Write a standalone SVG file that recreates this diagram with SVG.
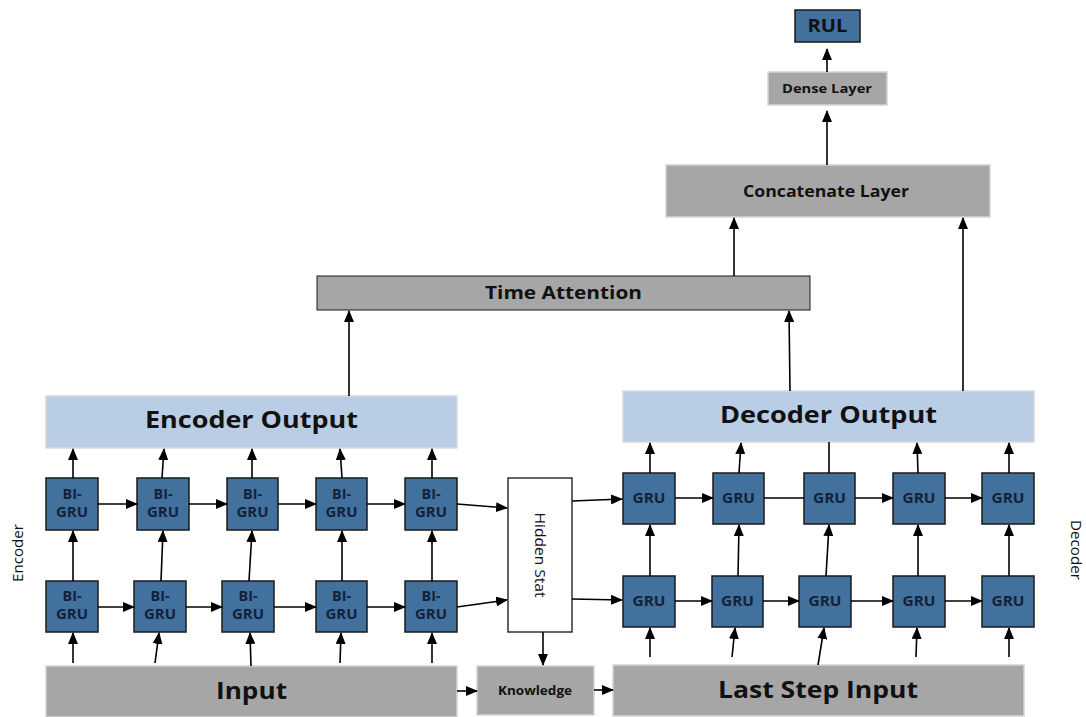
<svg xmlns="http://www.w3.org/2000/svg" width="1086" height="717" viewBox="0 0 1086 717">
<style>
.gru{fill:#41719c;stroke:#1a1a1a;stroke-width:1.5}
.gray{fill:#a6a6a6;stroke:#d4d4d4;stroke-width:1.5}
.grayb{fill:#a6a6a6;stroke:#1a1a1a;stroke-width:1}
.blue{fill:#b9cde5;stroke:#d9d9d9;stroke-width:1.5}
.t{font-family:"Open Sans","DejaVu Sans",sans-serif;font-weight:bold;fill:#111;text-anchor:middle}
.g{font-size:13.5px;fill:#14213a}
.c{stroke:#000;stroke-width:1.6;fill:none}
.a{marker-end:url(#ah)}
.side{font-family:"Open Sans","DejaVu Sans",sans-serif;font-size:15px;fill:#111;text-anchor:middle}
</style>
<defs>
<marker id="ah" markerUnits="userSpaceOnUse" markerWidth="12" markerHeight="10" refX="11" refY="5" orient="auto">
<path d="M0,0 L12,5 L0,10 z" fill="#000"/>
</marker>
</defs>
<rect width="1086" height="717" fill="#fff"/>

<g id="rul"><rect x="795" y="10" width="65" height="32" class="gru"/><text x="827.5" y="32" class="t" font-size="17" textLength="40" lengthAdjust="spacingAndGlyphs">RUL</text></g>
<g id="dense"><rect x="768" y="72" width="119" height="33" class="gray"/><text x="827" y="93" class="t" font-size="13" textLength="90" lengthAdjust="spacingAndGlyphs">Dense Layer</text></g>
<g id="concat"><rect x="666" y="165" width="324" height="52" class="gray"/><text x="826" y="197" class="t" font-size="16" textLength="166" lengthAdjust="spacingAndGlyphs">Concatenate Layer</text></g>
<g id="attention"><rect x="317" y="276" width="493" height="34" class="grayb"/><text x="563.5" y="299" class="t" font-size="17" textLength="157" lengthAdjust="spacingAndGlyphs">Time Attention</text></g>
<g id="encoder-output"><rect x="46" y="396" width="411" height="52" class="blue"/><text x="251.5" y="428" class="t" font-size="23" textLength="213" lengthAdjust="spacingAndGlyphs">Encoder Output</text></g>
<g id="decoder-output"><rect x="623" y="391" width="411" height="51" class="blue"/><text x="828.5" y="423" class="t" font-size="23" textLength="217" lengthAdjust="spacingAndGlyphs">Decoder Output</text></g>
<g id="input"><rect x="46" y="666" width="411" height="51" class="gray"/><text x="251.5" y="699" class="t" font-size="23" textLength="71" lengthAdjust="spacingAndGlyphs">Input</text></g>
<g id="knowledge"><rect x="477" y="666" width="117" height="49" class="gray"/><text x="535" y="695" class="t" font-size="12" textLength="74" lengthAdjust="spacingAndGlyphs">Knowledge</text></g>
<g id="last-step-input"><rect x="613" y="665" width="411" height="51" class="gray"/><text x="818" y="698" class="t" font-size="23" textLength="200" lengthAdjust="spacingAndGlyphs">Last Step Input</text></g>
<g id="hidden-stat"><rect x="508" y="478" width="64" height="154" fill="#fff" stroke="#111" stroke-width="1.3"/><text transform="translate(540,555) rotate(90)" x="0" y="5" font-family="'Open Sans','DejaVu Sans',sans-serif" font-size="14" fill="#111" text-anchor="middle" textLength="85" lengthAdjust="spacingAndGlyphs">Hidden Stat</text></g>

<g id="enc-top-1"><rect x="46" y="478" width="52" height="52" class="gru"/><text x="72" y="499" class="t g" textLength="19" lengthAdjust="spacingAndGlyphs">BI-</text><text x="72" y="517" class="t g" textLength="32" lengthAdjust="spacingAndGlyphs">GRU</text></g>
<g id="enc-top-2"><rect x="137" y="478" width="52" height="52" class="gru"/><text x="163" y="499" class="t g" textLength="19" lengthAdjust="spacingAndGlyphs">BI-</text><text x="163" y="517" class="t g" textLength="32" lengthAdjust="spacingAndGlyphs">GRU</text></g>
<g id="enc-top-3"><rect x="227" y="478" width="51" height="52" class="gru"/><text x="252.5" y="499" class="t g" textLength="19" lengthAdjust="spacingAndGlyphs">BI-</text><text x="252.5" y="517" class="t g" textLength="32" lengthAdjust="spacingAndGlyphs">GRU</text></g>
<g id="enc-top-4"><rect x="316" y="478" width="51" height="52" class="gru"/><text x="341.5" y="499" class="t g" textLength="19" lengthAdjust="spacingAndGlyphs">BI-</text><text x="341.5" y="517" class="t g" textLength="32" lengthAdjust="spacingAndGlyphs">GRU</text></g>
<g id="enc-top-5"><rect x="405" y="478" width="52" height="52" class="gru"/><text x="431" y="499" class="t g" textLength="19" lengthAdjust="spacingAndGlyphs">BI-</text><text x="431" y="517" class="t g" textLength="32" lengthAdjust="spacingAndGlyphs">GRU</text></g>

<g id="enc-bot-1"><rect x="46" y="581" width="52" height="51" class="gru"/><text x="72" y="601" class="t g" textLength="19" lengthAdjust="spacingAndGlyphs">BI-</text><text x="72" y="619" class="t g" textLength="32" lengthAdjust="spacingAndGlyphs">GRU</text></g>
<g id="enc-bot-2"><rect x="134" y="581" width="52" height="51" class="gru"/><text x="160" y="601" class="t g" textLength="19" lengthAdjust="spacingAndGlyphs">BI-</text><text x="160" y="619" class="t g" textLength="32" lengthAdjust="spacingAndGlyphs">GRU</text></g>
<g id="enc-bot-3"><rect x="222" y="581" width="52" height="51" class="gru"/><text x="248" y="601" class="t g" textLength="19" lengthAdjust="spacingAndGlyphs">BI-</text><text x="248" y="619" class="t g" textLength="32" lengthAdjust="spacingAndGlyphs">GRU</text></g>
<g id="enc-bot-4"><rect x="316" y="581" width="51" height="51" class="gru"/><text x="341.5" y="601" class="t g" textLength="19" lengthAdjust="spacingAndGlyphs">BI-</text><text x="341.5" y="619" class="t g" textLength="32" lengthAdjust="spacingAndGlyphs">GRU</text></g>
<g id="enc-bot-5"><rect x="405" y="581" width="52" height="51" class="gru"/><text x="431" y="601" class="t g" textLength="19" lengthAdjust="spacingAndGlyphs">BI-</text><text x="431" y="619" class="t g" textLength="32" lengthAdjust="spacingAndGlyphs">GRU</text></g>

<g id="dec-top-1"><rect x="623" y="473" width="52" height="51" class="gru"/><text x="649" y="503" class="t g" textLength="33" lengthAdjust="spacingAndGlyphs">GRU</text></g>
<g id="dec-top-2"><rect x="713" y="473" width="51" height="51" class="gru"/><text x="738.5" y="503" class="t g" textLength="33" lengthAdjust="spacingAndGlyphs">GRU</text></g>
<g id="dec-top-3"><rect x="804" y="473" width="51" height="51" class="gru"/><text x="829.5" y="503" class="t g" textLength="33" lengthAdjust="spacingAndGlyphs">GRU</text></g>
<g id="dec-top-4"><rect x="893" y="473" width="52" height="51" class="gru"/><text x="919" y="503" class="t g" textLength="33" lengthAdjust="spacingAndGlyphs">GRU</text></g>
<g id="dec-top-5"><rect x="982" y="473" width="52" height="51" class="gru"/><text x="1008" y="503" class="t g" textLength="33" lengthAdjust="spacingAndGlyphs">GRU</text></g>

<g id="dec-bot-1"><rect x="623" y="576" width="52" height="51" class="gru"/><text x="649" y="606" class="t g" textLength="33" lengthAdjust="spacingAndGlyphs">GRU</text></g>
<g id="dec-bot-2"><rect x="712" y="576" width="51" height="51" class="gru"/><text x="737.5" y="606" class="t g" textLength="33" lengthAdjust="spacingAndGlyphs">GRU</text></g>
<g id="dec-bot-3"><rect x="799" y="576" width="52" height="51" class="gru"/><text x="825" y="606" class="t g" textLength="33" lengthAdjust="spacingAndGlyphs">GRU</text></g>
<g id="dec-bot-4"><rect x="893" y="576" width="52" height="51" class="gru"/><text x="919" y="606" class="t g" textLength="33" lengthAdjust="spacingAndGlyphs">GRU</text></g>
<g id="dec-bot-5"><rect x="982" y="576" width="52" height="51" class="gru"/><text x="1008" y="606" class="t g" textLength="33" lengthAdjust="spacingAndGlyphs">GRU</text></g>

<g id="labels">
<text transform="translate(23,553) rotate(-90)" class="side" textLength="58" lengthAdjust="spacingAndGlyphs">Encoder</text>
<text transform="translate(1071,550) rotate(90)" class="side" textLength="60" lengthAdjust="spacingAndGlyphs">Decoder</text>
</g>

<g id="connectors">
<line x1="827" y1="72" x2="827" y2="49" class="c a"/>
<line x1="827" y1="165" x2="827" y2="111" class="c a"/>
<line x1="734" y1="276" x2="734" y2="218" class="c a"/>
<line x1="963" y1="391" x2="963" y2="218" class="c a"/>
<line x1="349" y1="396" x2="349" y2="311" class="c a"/>
<line x1="790" y1="391" x2="789" y2="311" class="c a"/>

<line x1="73" y1="478" x2="73" y2="449" class="c a"/>
<line x1="162" y1="478" x2="164" y2="449" class="c a"/>
<line x1="252" y1="478" x2="252" y2="449" class="c a"/>
<line x1="342" y1="478" x2="340" y2="449" class="c a"/>
<line x1="432" y1="478" x2="432" y2="449" class="c a"/>
<line x1="98" y1="504" x2="137" y2="504" class="c a"/>
<line x1="189" y1="504" x2="227" y2="504" class="c a"/>
<line x1="278" y1="504" x2="316" y2="504" class="c a"/>
<line x1="367" y1="504" x2="405" y2="504" class="c a"/>
<line x1="457" y1="504" x2="507" y2="508" class="c a"/>
<line x1="98" y1="607" x2="134" y2="607" class="c a"/>
<line x1="186" y1="607" x2="222" y2="607" class="c a"/>
<line x1="274" y1="607" x2="316" y2="607" class="c a"/>
<line x1="367" y1="607" x2="405" y2="607" class="c a"/>
<line x1="457" y1="607" x2="507" y2="600" class="c a"/>
<line x1="73" y1="581" x2="73" y2="531" class="c a"/>
<line x1="161" y1="581" x2="163" y2="531" class="c a"/>
<line x1="249" y1="581" x2="252" y2="531" class="c a"/>
<line x1="342" y1="581" x2="342" y2="531" class="c a"/>
<line x1="432" y1="581" x2="432" y2="531" class="c a"/>
<line x1="73" y1="663" x2="73" y2="633" class="c a"/>
<line x1="155" y1="663" x2="159" y2="633" class="c a"/>
<line x1="251" y1="666" x2="250" y2="633" class="c a"/>
<line x1="340" y1="663" x2="341" y2="633" class="c a"/>
<line x1="432" y1="663" x2="432" y2="633" class="c a"/>

<line x1="457" y1="691" x2="477" y2="691" class="c a"/>
<line x1="594" y1="690" x2="613" y2="690" class="c a"/>
<line x1="543" y1="632" x2="543" y2="665" class="c a"/>
<line x1="572" y1="501" x2="622" y2="499" class="c a"/>
<line x1="572" y1="599" x2="622" y2="600" class="c a"/>

<line x1="650" y1="473" x2="650" y2="443" class="c a"/>
<line x1="739" y1="473" x2="741" y2="443" class="c a"/>
<line x1="829" y1="473" x2="829" y2="442" class="c"/>
<line x1="918" y1="473" x2="917" y2="443" class="c a"/>
<line x1="1009" y1="473" x2="1009" y2="443" class="c a"/>
<line x1="675" y1="498" x2="713" y2="498" class="c a"/>
<line x1="764" y1="498" x2="804" y2="498" class="c"/>
<line x1="855" y1="498" x2="893" y2="498" class="c a"/>
<line x1="945" y1="498" x2="982" y2="498" class="c a"/>
<line x1="675" y1="601" x2="712" y2="601" class="c a"/>
<line x1="763" y1="601" x2="799" y2="601" class="c a"/>
<line x1="851" y1="601" x2="893" y2="601" class="c a"/>
<line x1="945" y1="601" x2="982" y2="601" class="c a"/>
<line x1="650" y1="576" x2="650" y2="525" class="c a"/>
<line x1="738" y1="576" x2="739" y2="525" class="c a"/>
<line x1="826" y1="576" x2="829" y2="525" class="c a"/>
<line x1="918" y1="576" x2="918" y2="525" class="c a"/>
<line x1="1009" y1="576" x2="1009" y2="525" class="c a"/>
<line x1="650" y1="657" x2="650" y2="628" class="c a"/>
<line x1="732" y1="657" x2="735" y2="628" class="c a"/>
<line x1="818" y1="665" x2="824" y2="628" class="c a"/>
<line x1="916" y1="657" x2="917" y2="628" class="c a"/>
<line x1="1009" y1="657" x2="1009" y2="628" class="c a"/>
</g>
</svg>
